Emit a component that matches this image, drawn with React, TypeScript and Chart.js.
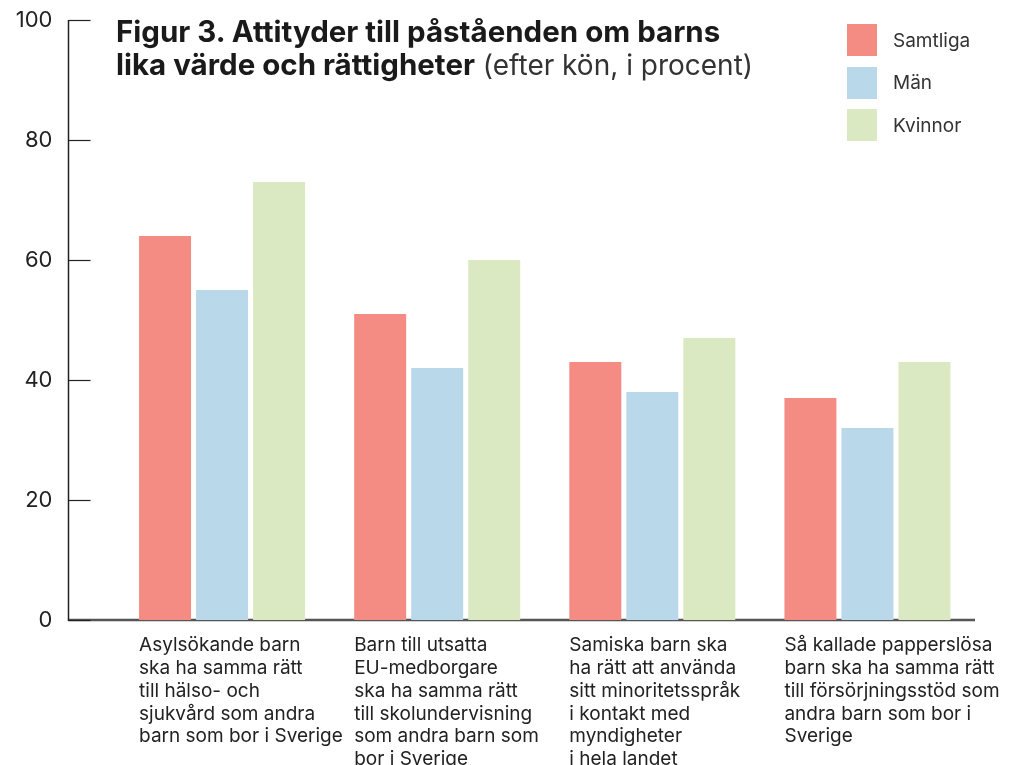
import React, { useEffect, useRef } from "react";
import { Chart, registerables } from "chart.js";

Chart.register(...registerables);

const categories: string[][] = [
  ["Asylsökande barn", "ska ha samma rätt", "till hälso- och", "sjukvård som andra", "barn som bor i Sverige"],
  ["Barn till utsatta", "EU-medborgare", "ska ha samma rätt", "till skolundervisning", "som andra barn som", "bor i Sverige"],
  ["Samiska barn ska", "ha rätt att använda", "sitt minoritetsspråk", "i kontakt med", "myndigheter", "i hela landet"],
  ["Så kallade papperslösa", "barn ska ha samma rätt", "till försörjningsstöd som", "andra barn som bor i", "Sverige"],
];

const seriesNames = ["Samtliga", "Män", "Kvinnor"];
const samtliga = [64, 51, 43, 37];
const man = [55, 42, 38, 32];
const kvinnor = [73, 60, 47, 43];
const seriesColors = ["#f48c84", "#b9d9ea", "#dbe9c3"];
const yTicks = [0, 20, 40, 60, 80, 100];

const titleBold1 = "Figur 3. Attityder till påståenden om barns";
const titleBold2 = "lika värde och rättigheter";
const titleNormal2 = " (efter kön, i procent)";

const FONT = "Inter, Roboto, 'Liberation Sans', sans-serif";

const axisPlugin = {
  id: "customAxes",
  beforeDatasetsDraw(chart: any) {
    const { ctx, chartArea, scales } = chart;
    const y = scales.y;
    const axisX = chartArea.left - 46;
    const top = y.getPixelForValue(100);
    const bottom = y.getPixelForValue(0);
    ctx.save();
    ctx.strokeStyle = "#555555";
    ctx.lineWidth = 2.5;
    ctx.beginPath();
    ctx.moveTo(axisX, bottom);
    ctx.lineTo(chartArea.right, bottom);
    ctx.stroke();
    ctx.strokeStyle = "#222222";
    ctx.lineWidth = 1.5;
    ctx.beginPath();
    ctx.moveTo(axisX, top);
    ctx.lineTo(axisX, bottom + 1);
    ctx.stroke();
    ctx.lineWidth = 1.2;
    for (const t of yTicks) {
      const py = Math.round(y.getPixelForValue(t)) + 0.5;
      ctx.beginPath();
      ctx.moveTo(axisX, py);
      ctx.lineTo(axisX + 22, py);
      ctx.stroke();
    }
    ctx.restore();
  },
};

function zeroPad(scale: any) {
  scale.paddingLeft = 0;
  scale.paddingRight = 0;
  scale.paddingTop = 0;
  scale.paddingBottom = 0;
}

export default function App() {
  const ref = useRef<HTMLCanvasElement | null>(null);

  useEffect(() => {
    if (!ref.current) return;
    const data = [samtliga, man, kvinnor];
    const chart = new Chart(ref.current, {
      type: "bar",
      data: {
        labels: categories,
        datasets: seriesNames.map((name, i) => ({
          label: name,
          data: data[i],
          backgroundColor: seriesColors[i],
          borderWidth: 0,
          barPercentage: 0.912,
          categoryPercentage: 0.795,
        })),
      },
      options: {
        animation: false,
        responsive: false,
        devicePixelRatio: 1,
        layout: { padding: { top: 20, right: 36, left: 0, bottom: 0 } },
        plugins: {
          legend: { display: false },
          title: { display: false },
          tooltip: { enabled: false },
        },
        scales: {
          x: {
            grid: { display: false, drawTicks: false },
            border: { display: false },
            ticks: {
              color: "#222222",
              font: { family: FONT, size: 19, lineHeight: 1.2 },
              align: "start",
              labelOffset: -83,
              maxRotation: 0,
              minRotation: 0,
              autoSkip: false,
              padding: 14,
            },
            afterFit(scale: any) {
              scale.height = 145;
              zeroPad(scale);
            },
          },
          y: {
            min: 0,
            max: 100,
            grid: { display: false, drawTicks: false },
            border: { display: false },
            afterBuildTicks(scale: any) {
              scale.ticks = yTicks.map((v) => ({ value: v }));
            },
            ticks: {
              color: "#222222",
              font: { family: FONT, size: 22 },
              padding: 62,
            },
            afterFit(scale: any) {
              scale.width = 114.5;
              zeroPad(scale);
            },
          },
        },
      },
      plugins: [axisPlugin],
    } as any);
    return () => chart.destroy();
  }, []);

  return (
    <div style={{ position: "fixed", left: 0, top: 0, width: 1011, height: 765, background: "#fff", overflow: "hidden" }}>
      <canvas ref={ref} width={1011} height={765} style={{ position: "absolute", left: 0, top: 0, width: 1011, height: 765 }} />
      <div
        style={{
          position: "absolute",
          left: 116,
          top: 15,
          fontFamily: FONT,
          fontSize: 29.5,
          lineHeight: "33px",
          color: "#1a1a1a",
          whiteSpace: "nowrap",
        }}
      >
        <div style={{ fontWeight: 700 }}>{titleBold1}</div>
        <div>
          <span style={{ fontWeight: 700 }}>{titleBold2}</span>
          <span style={{ fontWeight: 400, color: "#333", fontSize: 28 }}>{titleNormal2}</span>
        </div>
      </div>
      <div style={{ position: "absolute", left: 847, top: 24, fontFamily: FONT, fontSize: 19, color: "#333" }}>
        {seriesNames.map((name, i) => (
          <div key={name} style={{ display: "flex", alignItems: "center", height: 32, marginBottom: 10.5 }}>
            <div style={{ width: 30, height: 32, background: seriesColors[i] }} />
            <span style={{ marginLeft: 16 }}>{name}</span>
          </div>
        ))}
      </div>
    </div>
  );
}
